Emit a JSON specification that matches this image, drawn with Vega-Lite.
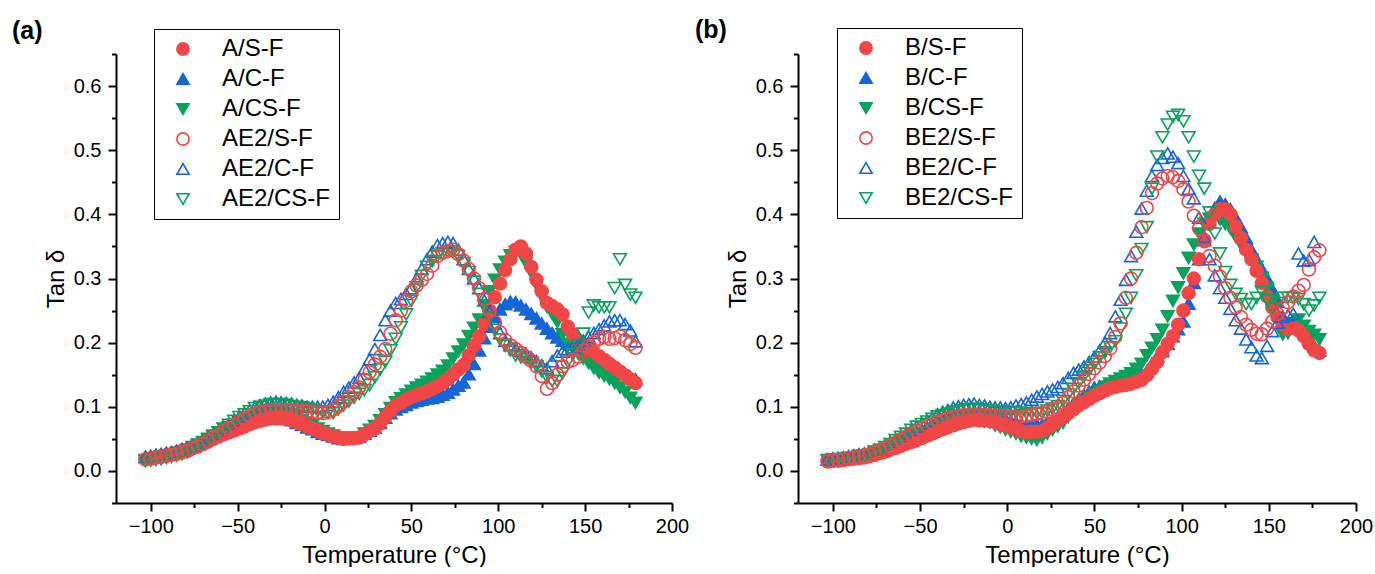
{
  "$schema": "https://vega.github.io/schema/vega-lite/v6.json",
  "background": "white",
  "padding": {"left": 12, "top": 17, "right": 0, "bottom": 0},
  "config": {
    "font": "Liberation Sans",
    "view": {"stroke": null},
    "axis": {"domainColor": "black", "domainWidth": 2, "tickColor": "black", "tickWidth": 2, "labelColor": "black", "titleColor": "black", "grid": false, "labelFontSize": 20, "titleFontSize": 24, "titleFontWeight": "normal", "labelFont": "Liberation Sans", "titleFont": "Liberation Sans"},
    "title": {"fontSize": 25, "fontWeight": "bold", "anchor": "start", "frame": "group", "color": "black", "font": "Liberation Sans"}
  },
  "datasets": {
    "a": [
      {"T":-103,"A/S-F":0.018,"A/C-F":0.022,"A/CS-F":0.017,"AE2/S-F":0.018,"AE2/C-F":0.022,"AE2/CS-F":0.015},
      {"T":-100,"A/S-F":0.020,"A/C-F":0.023,"A/CS-F":0.019,"AE2/S-F":0.019,"AE2/C-F":0.023,"AE2/CS-F":0.016},
      {"T":-97,"A/S-F":0.021,"A/C-F":0.025,"A/CS-F":0.020,"AE2/S-F":0.021,"AE2/C-F":0.025,"AE2/CS-F":0.017},
      {"T":-94,"A/S-F":0.023,"A/C-F":0.026,"A/CS-F":0.022,"AE2/S-F":0.022,"AE2/C-F":0.026,"AE2/CS-F":0.018},
      {"T":-91,"A/S-F":0.024,"A/C-F":0.028,"A/CS-F":0.023,"AE2/S-F":0.024,"AE2/C-F":0.028,"AE2/CS-F":0.020},
      {"T":-88,"A/S-F":0.026,"A/C-F":0.029,"A/CS-F":0.026,"AE2/S-F":0.025,"AE2/C-F":0.029,"AE2/CS-F":0.022},
      {"T":-85,"A/S-F":0.028,"A/C-F":0.031,"A/CS-F":0.028,"AE2/S-F":0.027,"AE2/C-F":0.031,"AE2/CS-F":0.024},
      {"T":-82,"A/S-F":0.031,"A/C-F":0.034,"A/CS-F":0.030,"AE2/S-F":0.029,"AE2/C-F":0.034,"AE2/CS-F":0.026},
      {"T":-79,"A/S-F":0.033,"A/C-F":0.036,"A/CS-F":0.033,"AE2/S-F":0.031,"AE2/C-F":0.036,"AE2/CS-F":0.029},
      {"T":-76,"A/S-F":0.036,"A/C-F":0.039,"A/CS-F":0.037,"AE2/S-F":0.035,"AE2/C-F":0.040,"AE2/CS-F":0.034},
      {"T":-73,"A/S-F":0.039,"A/C-F":0.042,"A/CS-F":0.041,"AE2/S-F":0.038,"AE2/C-F":0.043,"AE2/CS-F":0.038},
      {"T":-70,"A/S-F":0.042,"A/C-F":0.045,"A/CS-F":0.045,"AE2/S-F":0.042,"AE2/C-F":0.047,"AE2/CS-F":0.042},
      {"T":-67,"A/S-F":0.046,"A/C-F":0.050,"A/CS-F":0.050,"AE2/S-F":0.047,"AE2/C-F":0.052,"AE2/CS-F":0.048},
      {"T":-64,"A/S-F":0.050,"A/C-F":0.054,"A/CS-F":0.055,"AE2/S-F":0.052,"AE2/C-F":0.057,"AE2/CS-F":0.054},
      {"T":-61,"A/S-F":0.054,"A/C-F":0.059,"A/CS-F":0.060,"AE2/S-F":0.056,"AE2/C-F":0.061,"AE2/CS-F":0.060},
      {"T":-58,"A/S-F":0.057,"A/C-F":0.062,"A/CS-F":0.065,"AE2/S-F":0.062,"AE2/C-F":0.067,"AE2/CS-F":0.066},
      {"T":-55,"A/S-F":0.060,"A/C-F":0.066,"A/CS-F":0.068,"AE2/S-F":0.067,"AE2/C-F":0.073,"AE2/CS-F":0.072},
      {"T":-52,"A/S-F":0.063,"A/C-F":0.070,"A/CS-F":0.072,"AE2/S-F":0.072,"AE2/C-F":0.079,"AE2/CS-F":0.078},
      {"T":-49,"A/S-F":0.066,"A/C-F":0.073,"A/CS-F":0.076,"AE2/S-F":0.077,"AE2/C-F":0.085,"AE2/CS-F":0.084},
      {"T":-46,"A/S-F":0.069,"A/C-F":0.076,"A/CS-F":0.080,"AE2/S-F":0.082,"AE2/C-F":0.090,"AE2/CS-F":0.088},
      {"T":-43,"A/S-F":0.073,"A/C-F":0.079,"A/CS-F":0.083,"AE2/S-F":0.086,"AE2/C-F":0.095,"AE2/CS-F":0.093},
      {"T":-40,"A/S-F":0.076,"A/C-F":0.082,"A/CS-F":0.087,"AE2/S-F":0.090,"AE2/C-F":0.100,"AE2/CS-F":0.098},
      {"T":-37,"A/S-F":0.078,"A/C-F":0.083,"A/CS-F":0.089,"AE2/S-F":0.092,"AE2/C-F":0.102,"AE2/CS-F":0.100},
      {"T":-34,"A/S-F":0.080,"A/C-F":0.084,"A/CS-F":0.090,"AE2/S-F":0.093,"AE2/C-F":0.105,"AE2/CS-F":0.102},
      {"T":-31,"A/S-F":0.082,"A/C-F":0.086,"A/CS-F":0.092,"AE2/S-F":0.095,"AE2/C-F":0.107,"AE2/CS-F":0.104},
      {"T":-28,"A/S-F":0.082,"A/C-F":0.085,"A/CS-F":0.091,"AE2/S-F":0.095,"AE2/C-F":0.108,"AE2/CS-F":0.104},
      {"T":-25,"A/S-F":0.082,"A/C-F":0.083,"A/CS-F":0.090,"AE2/S-F":0.095,"AE2/C-F":0.107,"AE2/CS-F":0.104},
      {"T":-22,"A/S-F":0.081,"A/C-F":0.081,"A/CS-F":0.089,"AE2/S-F":0.095,"AE2/C-F":0.106,"AE2/CS-F":0.103},
      {"T":-19,"A/S-F":0.079,"A/C-F":0.079,"A/CS-F":0.087,"AE2/S-F":0.095,"AE2/C-F":0.105,"AE2/CS-F":0.101},
      {"T":-16,"A/S-F":0.076,"A/C-F":0.075,"A/CS-F":0.083,"AE2/S-F":0.094,"AE2/C-F":0.103,"AE2/CS-F":0.100},
      {"T":-13,"A/S-F":0.073,"A/C-F":0.072,"A/CS-F":0.079,"AE2/S-F":0.094,"AE2/C-F":0.102,"AE2/CS-F":0.099},
      {"T":-10,"A/S-F":0.070,"A/C-F":0.068,"A/CS-F":0.075,"AE2/S-F":0.093,"AE2/C-F":0.100,"AE2/CS-F":0.097},
      {"T":-7,"A/S-F":0.066,"A/C-F":0.065,"A/CS-F":0.071,"AE2/S-F":0.092,"AE2/C-F":0.100,"AE2/CS-F":0.095},
      {"T":-4,"A/S-F":0.063,"A/C-F":0.061,"A/CS-F":0.066,"AE2/S-F":0.091,"AE2/C-F":0.100,"AE2/CS-F":0.093},
      {"T":-1,"A/S-F":0.059,"A/C-F":0.058,"A/CS-F":0.062,"AE2/S-F":0.090,"AE2/C-F":0.100,"AE2/CS-F":0.091},
      {"T":2,"A/S-F":0.056,"A/C-F":0.056,"A/CS-F":0.058,"AE2/S-F":0.092,"AE2/C-F":0.103,"AE2/CS-F":0.090},
      {"T":5,"A/S-F":0.054,"A/C-F":0.054,"A/CS-F":0.055,"AE2/S-F":0.095,"AE2/C-F":0.108,"AE2/CS-F":0.090},
      {"T":8,"A/S-F":0.052,"A/C-F":0.051,"A/CS-F":0.052,"AE2/S-F":0.101,"AE2/C-F":0.115,"AE2/CS-F":0.096},
      {"T":11,"A/S-F":0.050,"A/C-F":0.050,"A/CS-F":0.050,"AE2/S-F":0.108,"AE2/C-F":0.123,"AE2/CS-F":0.102},
      {"T":14,"A/S-F":0.051,"A/C-F":0.051,"A/CS-F":0.051,"AE2/S-F":0.115,"AE2/C-F":0.130,"AE2/CS-F":0.108},
      {"T":17,"A/S-F":0.051,"A/C-F":0.052,"A/CS-F":0.051,"AE2/S-F":0.123,"AE2/C-F":0.138,"AE2/CS-F":0.114},
      {"T":20,"A/S-F":0.052,"A/C-F":0.053,"A/CS-F":0.052,"AE2/S-F":0.130,"AE2/C-F":0.145,"AE2/CS-F":0.120},
      {"T":23,"A/S-F":0.057,"A/C-F":0.058,"A/CS-F":0.058,"AE2/S-F":0.142,"AE2/C-F":0.159,"AE2/CS-F":0.126},
      {"T":26,"A/S-F":0.062,"A/C-F":0.063,"A/CS-F":0.064,"AE2/S-F":0.154,"AE2/C-F":0.174,"AE2/CS-F":0.134},
      {"T":29,"A/S-F":0.066,"A/C-F":0.068,"A/CS-F":0.070,"AE2/S-F":0.166,"AE2/C-F":0.190,"AE2/CS-F":0.146},
      {"T":32,"A/S-F":0.074,"A/C-F":0.075,"A/CS-F":0.079,"AE2/S-F":0.178,"AE2/C-F":0.212,"AE2/CS-F":0.158},
      {"T":35,"A/S-F":0.084,"A/C-F":0.083,"A/CS-F":0.088,"AE2/S-F":0.190,"AE2/C-F":0.235,"AE2/CS-F":0.170},
      {"T":38,"A/S-F":0.094,"A/C-F":0.090,"A/CS-F":0.098,"AE2/S-F":0.214,"AE2/C-F":0.250,"AE2/CS-F":0.188},
      {"T":41,"A/S-F":0.102,"A/C-F":0.096,"A/CS-F":0.107,"AE2/S-F":0.235,"AE2/C-F":0.262,"AE2/CS-F":0.206},
      {"T":44,"A/S-F":0.106,"A/C-F":0.100,"A/CS-F":0.113,"AE2/S-F":0.250,"AE2/C-F":0.268,"AE2/CS-F":0.224},
      {"T":47,"A/S-F":0.111,"A/C-F":0.103,"A/CS-F":0.119,"AE2/S-F":0.265,"AE2/C-F":0.276,"AE2/CS-F":0.244},
      {"T":50,"A/S-F":0.115,"A/C-F":0.107,"A/CS-F":0.125,"AE2/S-F":0.280,"AE2/C-F":0.285,"AE2/CS-F":0.265},
      {"T":53,"A/S-F":0.118,"A/C-F":0.109,"A/CS-F":0.130,"AE2/S-F":0.289,"AE2/C-F":0.300,"AE2/CS-F":0.286},
      {"T":56,"A/S-F":0.121,"A/C-F":0.111,"A/CS-F":0.134,"AE2/S-F":0.298,"AE2/C-F":0.315,"AE2/CS-F":0.304},
      {"T":59,"A/S-F":0.124,"A/C-F":0.113,"A/CS-F":0.139,"AE2/S-F":0.307,"AE2/C-F":0.330,"AE2/CS-F":0.318},
      {"T":62,"A/S-F":0.128,"A/C-F":0.114,"A/CS-F":0.144,"AE2/S-F":0.320,"AE2/C-F":0.342,"AE2/CS-F":0.327},
      {"T":65,"A/S-F":0.132,"A/C-F":0.116,"A/CS-F":0.150,"AE2/S-F":0.335,"AE2/C-F":0.352,"AE2/CS-F":0.335},
      {"T":68,"A/S-F":0.137,"A/C-F":0.119,"A/CS-F":0.156,"AE2/S-F":0.340,"AE2/C-F":0.355,"AE2/CS-F":0.339},
      {"T":71,"A/S-F":0.143,"A/C-F":0.122,"A/CS-F":0.164,"AE2/S-F":0.343,"AE2/C-F":0.357,"AE2/CS-F":0.342},
      {"T":74,"A/S-F":0.150,"A/C-F":0.127,"A/CS-F":0.175,"AE2/S-F":0.345,"AE2/C-F":0.355,"AE2/CS-F":0.342},
      {"T":77,"A/S-F":0.158,"A/C-F":0.133,"A/CS-F":0.186,"AE2/S-F":0.338,"AE2/C-F":0.345,"AE2/CS-F":0.335},
      {"T":80,"A/S-F":0.165,"A/C-F":0.138,"A/CS-F":0.197,"AE2/S-F":0.328,"AE2/C-F":0.330,"AE2/CS-F":0.324},
      {"T":83,"A/S-F":0.180,"A/C-F":0.151,"A/CS-F":0.210,"AE2/S-F":0.315,"AE2/C-F":0.315,"AE2/CS-F":0.310},
      {"T":86,"A/S-F":0.195,"A/C-F":0.167,"A/CS-F":0.223,"AE2/S-F":0.300,"AE2/C-F":0.300,"AE2/CS-F":0.295},
      {"T":89,"A/S-F":0.210,"A/C-F":0.188,"A/CS-F":0.236,"AE2/S-F":0.285,"AE2/C-F":0.285,"AE2/CS-F":0.276},
      {"T":92,"A/S-F":0.229,"A/C-F":0.207,"A/CS-F":0.256,"AE2/S-F":0.268,"AE2/C-F":0.266,"AE2/CS-F":0.258},
      {"T":95,"A/S-F":0.250,"A/C-F":0.225,"A/CS-F":0.280,"AE2/S-F":0.250,"AE2/C-F":0.248,"AE2/CS-F":0.239},
      {"T":98,"A/S-F":0.271,"A/C-F":0.240,"A/CS-F":0.298,"AE2/S-F":0.232,"AE2/C-F":0.230,"AE2/CS-F":0.220},
      {"T":101,"A/S-F":0.292,"A/C-F":0.252,"A/CS-F":0.314,"AE2/S-F":0.216,"AE2/C-F":0.215,"AE2/CS-F":0.205},
      {"T":104,"A/S-F":0.313,"A/C-F":0.260,"A/CS-F":0.326,"AE2/S-F":0.204,"AE2/C-F":0.203,"AE2/CS-F":0.195},
      {"T":107,"A/S-F":0.330,"A/C-F":0.264,"A/CS-F":0.336,"AE2/S-F":0.196,"AE2/C-F":0.196,"AE2/CS-F":0.188},
      {"T":110,"A/S-F":0.345,"A/C-F":0.263,"A/CS-F":0.341,"AE2/S-F":0.190,"AE2/C-F":0.190,"AE2/CS-F":0.180},
      {"T":113,"A/S-F":0.350,"A/C-F":0.258,"A/CS-F":0.338,"AE2/S-F":0.184,"AE2/C-F":0.187,"AE2/CS-F":0.177},
      {"T":116,"A/S-F":0.339,"A/C-F":0.252,"A/CS-F":0.324,"AE2/S-F":0.178,"AE2/C-F":0.183,"AE2/CS-F":0.174},
      {"T":119,"A/S-F":0.318,"A/C-F":0.245,"A/CS-F":0.309,"AE2/S-F":0.172,"AE2/C-F":0.177,"AE2/CS-F":0.169},
      {"T":122,"A/S-F":0.298,"A/C-F":0.238,"A/CS-F":0.290,"AE2/S-F":0.163,"AE2/C-F":0.171,"AE2/CS-F":0.163},
      {"T":125,"A/S-F":0.280,"A/C-F":0.230,"A/CS-F":0.272,"AE2/S-F":0.148,"AE2/C-F":0.165,"AE2/CS-F":0.155},
      {"T":128,"A/S-F":0.262,"A/C-F":0.222,"A/CS-F":0.256,"AE2/S-F":0.128,"AE2/C-F":0.160,"AE2/CS-F":0.146},
      {"T":131,"A/S-F":0.257,"A/C-F":0.215,"A/CS-F":0.245,"AE2/S-F":0.137,"AE2/C-F":0.171,"AE2/CS-F":0.140},
      {"T":134,"A/S-F":0.252,"A/C-F":0.208,"A/CS-F":0.232,"AE2/S-F":0.150,"AE2/C-F":0.180,"AE2/CS-F":0.140},
      {"T":137,"A/S-F":0.244,"A/C-F":0.203,"A/CS-F":0.213,"AE2/S-F":0.163,"AE2/C-F":0.186,"AE2/CS-F":0.152},
      {"T":140,"A/S-F":0.225,"A/C-F":0.199,"A/CS-F":0.198,"AE2/S-F":0.170,"AE2/C-F":0.190,"AE2/CS-F":0.170},
      {"T":143,"A/S-F":0.213,"A/C-F":0.197,"A/CS-F":0.190,"AE2/S-F":0.173,"AE2/C-F":0.193,"AE2/CS-F":0.182},
      {"T":146,"A/S-F":0.203,"A/C-F":0.194,"A/CS-F":0.183,"AE2/S-F":0.178,"AE2/C-F":0.197,"AE2/CS-F":0.196},
      {"T":149,"A/S-F":0.197,"A/C-F":0.192,"A/CS-F":0.175,"AE2/S-F":0.187,"AE2/C-F":0.203,"AE2/CS-F":0.214},
      {"T":152,"A/S-F":0.191,"A/C-F":0.188,"A/CS-F":0.168,"AE2/S-F":0.194,"AE2/C-F":0.209,"AE2/CS-F":0.247},
      {"T":155,"A/S-F":0.185,"A/C-F":0.182,"A/CS-F":0.160,"AE2/S-F":0.200,"AE2/C-F":0.215,"AE2/CS-F":0.258},
      {"T":158,"A/S-F":0.179,"A/C-F":0.177,"A/CS-F":0.153,"AE2/S-F":0.206,"AE2/C-F":0.221,"AE2/CS-F":0.255},
      {"T":161,"A/S-F":0.173,"A/C-F":0.172,"A/CS-F":0.148,"AE2/S-F":0.209,"AE2/C-F":0.227,"AE2/CS-F":0.255},
      {"T":164,"A/S-F":0.167,"A/C-F":0.167,"A/CS-F":0.143,"AE2/S-F":0.206,"AE2/C-F":0.233,"AE2/CS-F":0.255},
      {"T":167,"A/S-F":0.161,"A/C-F":0.162,"A/CS-F":0.137,"AE2/S-F":0.207,"AE2/C-F":0.235,"AE2/CS-F":0.285},
      {"T":170,"A/S-F":0.155,"A/C-F":0.157,"A/CS-F":0.130,"AE2/S-F":0.210,"AE2/C-F":0.235,"AE2/CS-F":0.330},
      {"T":173,"A/S-F":0.149,"A/C-F":0.152,"A/CS-F":0.123,"AE2/S-F":0.204,"AE2/C-F":0.229,"AE2/CS-F":0.290},
      {"T":176,"A/S-F":0.143,"A/C-F":0.147,"A/CS-F":0.114,"AE2/S-F":0.198,"AE2/C-F":0.219,"AE2/CS-F":0.275},
      {"T":179,"A/S-F":0.137,"A/C-F":0.143,"A/CS-F":0.106,"AE2/S-F":0.192,"AE2/C-F":0.202,"AE2/CS-F":0.270}
    ],
    "b": [
      {"T":-103,"B/S-F":0.015,"B/C-F":0.018,"B/CS-F":0.016,"BE2/S-F":0.015,"BE2/C-F":0.018,"BE2/CS-F":0.017},
      {"T":-100,"B/S-F":0.016,"B/C-F":0.019,"B/CS-F":0.017,"BE2/S-F":0.016,"BE2/C-F":0.019,"BE2/CS-F":0.018},
      {"T":-97,"B/S-F":0.016,"B/C-F":0.020,"B/CS-F":0.018,"BE2/S-F":0.017,"BE2/C-F":0.020,"BE2/CS-F":0.018},
      {"T":-94,"B/S-F":0.017,"B/C-F":0.021,"B/CS-F":0.019,"BE2/S-F":0.018,"BE2/C-F":0.021,"BE2/CS-F":0.019},
      {"T":-91,"B/S-F":0.018,"B/C-F":0.022,"B/CS-F":0.020,"BE2/S-F":0.020,"BE2/C-F":0.023,"BE2/CS-F":0.020},
      {"T":-88,"B/S-F":0.019,"B/C-F":0.023,"B/CS-F":0.021,"BE2/S-F":0.021,"BE2/C-F":0.024,"BE2/CS-F":0.021},
      {"T":-85,"B/S-F":0.020,"B/C-F":0.025,"B/CS-F":0.023,"BE2/S-F":0.023,"BE2/C-F":0.026,"BE2/CS-F":0.023},
      {"T":-82,"B/S-F":0.021,"B/C-F":0.027,"B/CS-F":0.024,"BE2/S-F":0.024,"BE2/C-F":0.027,"BE2/CS-F":0.024},
      {"T":-79,"B/S-F":0.023,"B/C-F":0.029,"B/CS-F":0.026,"BE2/S-F":0.026,"BE2/C-F":0.029,"BE2/CS-F":0.026},
      {"T":-76,"B/S-F":0.025,"B/C-F":0.032,"B/CS-F":0.028,"BE2/S-F":0.029,"BE2/C-F":0.033,"BE2/CS-F":0.030},
      {"T":-73,"B/S-F":0.028,"B/C-F":0.034,"B/CS-F":0.031,"BE2/S-F":0.032,"BE2/C-F":0.036,"BE2/CS-F":0.033},
      {"T":-70,"B/S-F":0.030,"B/C-F":0.038,"B/CS-F":0.033,"BE2/S-F":0.035,"BE2/C-F":0.040,"BE2/CS-F":0.037},
      {"T":-67,"B/S-F":0.033,"B/C-F":0.042,"B/CS-F":0.037,"BE2/S-F":0.040,"BE2/C-F":0.045,"BE2/CS-F":0.042},
      {"T":-64,"B/S-F":0.036,"B/C-F":0.045,"B/CS-F":0.040,"BE2/S-F":0.044,"BE2/C-F":0.049,"BE2/CS-F":0.048},
      {"T":-61,"B/S-F":0.039,"B/C-F":0.049,"B/CS-F":0.044,"BE2/S-F":0.049,"BE2/C-F":0.054,"BE2/CS-F":0.053},
      {"T":-58,"B/S-F":0.042,"B/C-F":0.052,"B/CS-F":0.047,"BE2/S-F":0.053,"BE2/C-F":0.058,"BE2/CS-F":0.058},
      {"T":-55,"B/S-F":0.045,"B/C-F":0.056,"B/CS-F":0.051,"BE2/S-F":0.058,"BE2/C-F":0.064,"BE2/CS-F":0.064},
      {"T":-52,"B/S-F":0.048,"B/C-F":0.060,"B/CS-F":0.055,"BE2/S-F":0.062,"BE2/C-F":0.069,"BE2/CS-F":0.069},
      {"T":-49,"B/S-F":0.051,"B/C-F":0.063,"B/CS-F":0.058,"BE2/S-F":0.066,"BE2/C-F":0.074,"BE2/CS-F":0.073},
      {"T":-46,"B/S-F":0.055,"B/C-F":0.067,"B/CS-F":0.061,"BE2/S-F":0.070,"BE2/C-F":0.078,"BE2/CS-F":0.077},
      {"T":-43,"B/S-F":0.058,"B/C-F":0.071,"B/CS-F":0.065,"BE2/S-F":0.073,"BE2/C-F":0.083,"BE2/CS-F":0.081},
      {"T":-40,"B/S-F":0.062,"B/C-F":0.075,"B/CS-F":0.068,"BE2/S-F":0.077,"BE2/C-F":0.088,"BE2/CS-F":0.085},
      {"T":-37,"B/S-F":0.065,"B/C-F":0.079,"B/CS-F":0.071,"BE2/S-F":0.079,"BE2/C-F":0.092,"BE2/CS-F":0.087},
      {"T":-34,"B/S-F":0.068,"B/C-F":0.082,"B/CS-F":0.073,"BE2/S-F":0.082,"BE2/C-F":0.095,"BE2/CS-F":0.089},
      {"T":-31,"B/S-F":0.071,"B/C-F":0.086,"B/CS-F":0.076,"BE2/S-F":0.084,"BE2/C-F":0.099,"BE2/CS-F":0.091},
      {"T":-28,"B/S-F":0.074,"B/C-F":0.088,"B/CS-F":0.078,"BE2/S-F":0.086,"BE2/C-F":0.101,"BE2/CS-F":0.093},
      {"T":-25,"B/S-F":0.076,"B/C-F":0.090,"B/CS-F":0.079,"BE2/S-F":0.087,"BE2/C-F":0.103,"BE2/CS-F":0.095},
      {"T":-22,"B/S-F":0.078,"B/C-F":0.092,"B/CS-F":0.080,"BE2/S-F":0.087,"BE2/C-F":0.104,"BE2/CS-F":0.096},
      {"T":-19,"B/S-F":0.080,"B/C-F":0.093,"B/CS-F":0.080,"BE2/S-F":0.088,"BE2/C-F":0.105,"BE2/CS-F":0.097},
      {"T":-16,"B/S-F":0.079,"B/C-F":0.092,"B/CS-F":0.079,"BE2/S-F":0.088,"BE2/C-F":0.103,"BE2/CS-F":0.096},
      {"T":-13,"B/S-F":0.079,"B/C-F":0.091,"B/CS-F":0.077,"BE2/S-F":0.087,"BE2/C-F":0.102,"BE2/CS-F":0.095},
      {"T":-10,"B/S-F":0.078,"B/C-F":0.090,"B/CS-F":0.075,"BE2/S-F":0.087,"BE2/C-F":0.100,"BE2/CS-F":0.094},
      {"T":-7,"B/S-F":0.076,"B/C-F":0.087,"B/CS-F":0.071,"BE2/S-F":0.086,"BE2/C-F":0.099,"BE2/CS-F":0.093},
      {"T":-4,"B/S-F":0.073,"B/C-F":0.084,"B/CS-F":0.068,"BE2/S-F":0.086,"BE2/C-F":0.099,"BE2/CS-F":0.093},
      {"T":-1,"B/S-F":0.071,"B/C-F":0.081,"B/CS-F":0.064,"BE2/S-F":0.085,"BE2/C-F":0.098,"BE2/CS-F":0.092},
      {"T":2,"B/S-F":0.068,"B/C-F":0.078,"B/CS-F":0.061,"BE2/S-F":0.085,"BE2/C-F":0.099,"BE2/CS-F":0.092},
      {"T":5,"B/S-F":0.065,"B/C-F":0.076,"B/CS-F":0.058,"BE2/S-F":0.085,"BE2/C-F":0.102,"BE2/CS-F":0.091},
      {"T":8,"B/S-F":0.062,"B/C-F":0.074,"B/CS-F":0.054,"BE2/S-F":0.085,"BE2/C-F":0.104,"BE2/CS-F":0.090},
      {"T":11,"B/S-F":0.060,"B/C-F":0.072,"B/CS-F":0.052,"BE2/S-F":0.086,"BE2/C-F":0.107,"BE2/CS-F":0.090},
      {"T":14,"B/S-F":0.061,"B/C-F":0.072,"B/CS-F":0.050,"BE2/S-F":0.087,"BE2/C-F":0.111,"BE2/CS-F":0.090},
      {"T":17,"B/S-F":0.061,"B/C-F":0.072,"B/CS-F":0.048,"BE2/S-F":0.089,"BE2/C-F":0.116,"BE2/CS-F":0.090},
      {"T":20,"B/S-F":0.062,"B/C-F":0.072,"B/CS-F":0.052,"BE2/S-F":0.090,"BE2/C-F":0.120,"BE2/CS-F":0.090},
      {"T":23,"B/S-F":0.067,"B/C-F":0.076,"B/CS-F":0.058,"BE2/S-F":0.093,"BE2/C-F":0.124,"BE2/CS-F":0.094},
      {"T":26,"B/S-F":0.073,"B/C-F":0.080,"B/CS-F":0.064,"BE2/S-F":0.096,"BE2/C-F":0.127,"BE2/CS-F":0.097},
      {"T":29,"B/S-F":0.078,"B/C-F":0.084,"B/CS-F":0.069,"BE2/S-F":0.099,"BE2/C-F":0.131,"BE2/CS-F":0.101},
      {"T":32,"B/S-F":0.084,"B/C-F":0.090,"B/CS-F":0.075,"BE2/S-F":0.106,"BE2/C-F":0.137,"BE2/CS-F":0.109},
      {"T":35,"B/S-F":0.090,"B/C-F":0.098,"B/CS-F":0.084,"BE2/S-F":0.115,"BE2/C-F":0.145,"BE2/CS-F":0.119},
      {"T":38,"B/S-F":0.096,"B/C-F":0.105,"B/CS-F":0.094,"BE2/S-F":0.124,"BE2/C-F":0.153,"BE2/CS-F":0.128},
      {"T":41,"B/S-F":0.102,"B/C-F":0.112,"B/CS-F":0.102,"BE2/S-F":0.133,"BE2/C-F":0.158,"BE2/CS-F":0.137},
      {"T":44,"B/S-F":0.107,"B/C-F":0.118,"B/CS-F":0.108,"BE2/S-F":0.142,"BE2/C-F":0.163,"BE2/CS-F":0.147},
      {"T":47,"B/S-F":0.112,"B/C-F":0.124,"B/CS-F":0.114,"BE2/S-F":0.151,"BE2/C-F":0.170,"BE2/CS-F":0.157},
      {"T":50,"B/S-F":0.117,"B/C-F":0.130,"B/CS-F":0.120,"BE2/S-F":0.160,"BE2/C-F":0.178,"BE2/CS-F":0.167},
      {"T":53,"B/S-F":0.121,"B/C-F":0.132,"B/CS-F":0.125,"BE2/S-F":0.169,"BE2/C-F":0.188,"BE2/CS-F":0.177},
      {"T":56,"B/S-F":0.125,"B/C-F":0.135,"B/CS-F":0.131,"BE2/S-F":0.179,"BE2/C-F":0.200,"BE2/CS-F":0.185},
      {"T":59,"B/S-F":0.129,"B/C-F":0.137,"B/CS-F":0.136,"BE2/S-F":0.191,"BE2/C-F":0.215,"BE2/CS-F":0.193},
      {"T":62,"B/S-F":0.131,"B/C-F":0.138,"B/CS-F":0.140,"BE2/S-F":0.209,"BE2/C-F":0.241,"BE2/CS-F":0.202},
      {"T":65,"B/S-F":0.133,"B/C-F":0.139,"B/CS-F":0.144,"BE2/S-F":0.230,"BE2/C-F":0.267,"BE2/CS-F":0.222},
      {"T":68,"B/S-F":0.134,"B/C-F":0.140,"B/CS-F":0.148,"BE2/S-F":0.270,"BE2/C-F":0.298,"BE2/CS-F":0.245},
      {"T":71,"B/S-F":0.136,"B/C-F":0.142,"B/CS-F":0.152,"BE2/S-F":0.300,"BE2/C-F":0.335,"BE2/CS-F":0.270},
      {"T":74,"B/S-F":0.139,"B/C-F":0.146,"B/CS-F":0.159,"BE2/S-F":0.340,"BE2/C-F":0.373,"BE2/CS-F":0.305},
      {"T":77,"B/S-F":0.142,"B/C-F":0.151,"B/CS-F":0.167,"BE2/S-F":0.380,"BE2/C-F":0.409,"BE2/CS-F":0.346},
      {"T":80,"B/S-F":0.149,"B/C-F":0.155,"B/CS-F":0.180,"BE2/S-F":0.410,"BE2/C-F":0.437,"BE2/CS-F":0.380},
      {"T":83,"B/S-F":0.159,"B/C-F":0.167,"B/CS-F":0.192,"BE2/S-F":0.433,"BE2/C-F":0.460,"BE2/CS-F":0.440},
      {"T":86,"B/S-F":0.170,"B/C-F":0.178,"B/CS-F":0.205,"BE2/S-F":0.448,"BE2/C-F":0.477,"BE2/CS-F":0.490},
      {"T":89,"B/S-F":0.185,"B/C-F":0.187,"B/CS-F":0.220,"BE2/S-F":0.456,"BE2/C-F":0.488,"BE2/CS-F":0.520},
      {"T":92,"B/S-F":0.198,"B/C-F":0.198,"B/CS-F":0.241,"BE2/S-F":0.460,"BE2/C-F":0.495,"BE2/CS-F":0.540},
      {"T":95,"B/S-F":0.210,"B/C-F":0.210,"B/CS-F":0.265,"BE2/S-F":0.458,"BE2/C-F":0.490,"BE2/CS-F":0.552},
      {"T":98,"B/S-F":0.228,"B/C-F":0.221,"B/CS-F":0.286,"BE2/S-F":0.452,"BE2/C-F":0.480,"BE2/CS-F":0.555},
      {"T":101,"B/S-F":0.250,"B/C-F":0.233,"B/CS-F":0.308,"BE2/S-F":0.439,"BE2/C-F":0.460,"BE2/CS-F":0.545},
      {"T":104,"B/S-F":0.277,"B/C-F":0.261,"B/CS-F":0.332,"BE2/S-F":0.420,"BE2/C-F":0.440,"BE2/CS-F":0.520},
      {"T":107,"B/S-F":0.300,"B/C-F":0.293,"B/CS-F":0.353,"BE2/S-F":0.398,"BE2/C-F":0.425,"BE2/CS-F":0.490},
      {"T":110,"B/S-F":0.330,"B/C-F":0.330,"B/CS-F":0.370,"BE2/S-F":0.378,"BE2/C-F":0.395,"BE2/CS-F":0.460},
      {"T":113,"B/S-F":0.360,"B/C-F":0.360,"B/CS-F":0.385,"BE2/S-F":0.358,"BE2/C-F":0.365,"BE2/CS-F":0.440},
      {"T":116,"B/S-F":0.385,"B/C-F":0.388,"B/CS-F":0.393,"BE2/S-F":0.335,"BE2/C-F":0.330,"BE2/CS-F":0.403},
      {"T":119,"B/S-F":0.400,"B/C-F":0.410,"B/CS-F":0.395,"BE2/S-F":0.320,"BE2/C-F":0.305,"BE2/CS-F":0.370},
      {"T":122,"B/S-F":0.408,"B/C-F":0.420,"B/CS-F":0.392,"BE2/S-F":0.303,"BE2/C-F":0.285,"BE2/CS-F":0.339},
      {"T":125,"B/S-F":0.408,"B/C-F":0.416,"B/CS-F":0.385,"BE2/S-F":0.285,"BE2/C-F":0.270,"BE2/CS-F":0.310},
      {"T":128,"B/S-F":0.400,"B/C-F":0.408,"B/CS-F":0.378,"BE2/S-F":0.270,"BE2/C-F":0.253,"BE2/CS-F":0.290},
      {"T":131,"B/S-F":0.381,"B/C-F":0.395,"B/CS-F":0.365,"BE2/S-F":0.255,"BE2/C-F":0.235,"BE2/CS-F":0.276},
      {"T":134,"B/S-F":0.363,"B/C-F":0.380,"B/CS-F":0.353,"BE2/S-F":0.240,"BE2/C-F":0.222,"BE2/CS-F":0.268},
      {"T":137,"B/S-F":0.345,"B/C-F":0.363,"B/CS-F":0.340,"BE2/S-F":0.228,"BE2/C-F":0.205,"BE2/CS-F":0.260},
      {"T":140,"B/S-F":0.330,"B/C-F":0.345,"B/CS-F":0.329,"BE2/S-F":0.220,"BE2/C-F":0.193,"BE2/CS-F":0.260},
      {"T":143,"B/S-F":0.312,"B/C-F":0.330,"B/CS-F":0.318,"BE2/S-F":0.214,"BE2/C-F":0.180,"BE2/CS-F":0.270},
      {"T":146,"B/S-F":0.293,"B/C-F":0.315,"B/CS-F":0.301,"BE2/S-F":0.213,"BE2/C-F":0.176,"BE2/CS-F":0.279},
      {"T":149,"B/S-F":0.272,"B/C-F":0.300,"B/CS-F":0.285,"BE2/S-F":0.222,"BE2/C-F":0.195,"BE2/CS-F":0.266},
      {"T":152,"B/S-F":0.255,"B/C-F":0.283,"B/CS-F":0.265,"BE2/S-F":0.233,"BE2/C-F":0.218,"BE2/CS-F":0.253},
      {"T":155,"B/S-F":0.240,"B/C-F":0.264,"B/CS-F":0.235,"BE2/S-F":0.245,"BE2/C-F":0.231,"BE2/CS-F":0.262},
      {"T":158,"B/S-F":0.228,"B/C-F":0.240,"B/CS-F":0.213,"BE2/S-F":0.254,"BE2/C-F":0.240,"BE2/CS-F":0.270},
      {"T":161,"B/S-F":0.221,"B/C-F":0.229,"B/CS-F":0.215,"BE2/S-F":0.263,"BE2/C-F":0.243,"BE2/CS-F":0.270},
      {"T":164,"B/S-F":0.224,"B/C-F":0.230,"B/CS-F":0.230,"BE2/S-F":0.272,"BE2/C-F":0.245,"BE2/CS-F":0.270},
      {"T":167,"B/S-F":0.219,"B/C-F":0.232,"B/CS-F":0.236,"BE2/S-F":0.281,"BE2/C-F":0.339,"BE2/CS-F":0.268},
      {"T":170,"B/S-F":0.210,"B/C-F":0.219,"B/CS-F":0.226,"BE2/S-F":0.290,"BE2/C-F":0.328,"BE2/CS-F":0.260},
      {"T":173,"B/S-F":0.198,"B/C-F":0.207,"B/CS-F":0.218,"BE2/S-F":0.314,"BE2/C-F":0.329,"BE2/CS-F":0.250},
      {"T":176,"B/S-F":0.188,"B/C-F":0.195,"B/CS-F":0.212,"BE2/S-F":0.333,"BE2/C-F":0.357,"BE2/CS-F":0.258},
      {"T":179,"B/S-F":0.184,"B/C-F":0.188,"B/CS-F":0.205,"BE2/S-F":0.344,"BE2/CS-F":0.270}
    ]
  },
  "hconcat": [
    {
      "title": {"text": "(a)", "dx": -104, "dy": 19},
      "width": 556,
      "height": 449,
      "data": {"name": "a"},
      "transform": [{"fold": ["A/S-F", "A/C-F", "A/CS-F", "AE2/S-F", "AE2/C-F", "AE2/CS-F"], "as": ["series", "tan"]}],
      "mark": {"type": "point", "size": 165, "strokeWidth": 1.6, "opacity": 1},
      "encoding": {
        "x": {"field": "T", "type": "quantitative", "scale": {"domain": [-120, 200], "nice": false},
          "axis": {"values": [-100, -75, -50, -25, 0, 25, 50, 75, 100, 125, 150, 175, 200], "labelExpr": "datum.value % 50 === 0 ? datum.label : ''", "tickSize": {"condition": {"test": "datum.value % 50 === 0", "value": 8}, "value": 4.5}, "labelPadding": 5, "labelOverlap": false, "labelFlush": false, "title": "Temperature (°C)", "titlePadding": 7}},
        "y": {"field": "tan", "type": "quantitative", "scale": {"domain": [-0.05, 0.65], "nice": false, "zero": false},
          "axis": {"values": [-0.05, 0, 0.05, 0.1, 0.15, 0.2, 0.25, 0.3, 0.35, 0.4, 0.45, 0.5, 0.55, 0.6, 0.65], "format": ".1f", "labelExpr": "round(datum.value * 100) % 10 === 0 ? datum.label : ''", "tickSize": {"condition": {"test": "round(datum.value * 100) % 10 === 0", "value": 8}, "value": 4.5}, "labelPadding": 7, "labelOverlap": false, "labelFlush": false, "title": "Tan δ", "titlePadding": 5}},
        "shape": {"field": "series", "type": "nominal", "scale": {"domain": ["A/S-F", "A/C-F", "A/CS-F", "AE2/S-F", "AE2/C-F", "AE2/CS-F"], "range": ["circle", "triangle-up", "triangle-down", "circle", "triangle-up", "triangle-down"]},
          "legend": {"title": null, "orient": "none", "legendX": 38, "legendY": -25, "padding": 8, "symbolOffset": 9, "labelOffset": 27, "labelFontSize": 24, "labelFont": "Liberation Sans", "labelColor": "black", "rowPadding": 6, "strokeColor": "black", "fillColor": "white", "symbolSize": 150, "symbolStrokeWidth": 1.6, "labelLimit": 300}},
        "fill": {"field": "series", "type": "nominal", "scale": {"domain": ["A/S-F", "A/C-F", "A/CS-F", "AE2/S-F", "AE2/C-F", "AE2/CS-F"], "range": ["#F24646", "#1466D8", "#06A35A", "transparent", "transparent", "transparent"]}},
        "stroke": {"field": "series", "type": "nominal", "scale": {"domain": ["A/S-F", "A/C-F", "A/CS-F", "AE2/S-F", "AE2/C-F", "AE2/CS-F"], "range": ["#F24646", "#1466D8", "#06A35A", "#F24646", "#1466D8", "#06A35A"]}},
        "order": {"field": "series"}
      }
    },
    {
      "title": {"text": "(b)", "dx": -103, "dy": 19},
      "width": 558,
      "height": 449,
      "data": {"name": "b"},
      "transform": [{"fold": ["B/S-F", "B/C-F", "B/CS-F", "BE2/S-F", "BE2/C-F", "BE2/CS-F"], "as": ["series", "tan"]}],
      "mark": {"type": "point", "size": 165, "strokeWidth": 1.6, "opacity": 1},
      "encoding": {
        "x": {"field": "T", "type": "quantitative", "scale": {"domain": [-120, 200], "nice": false},
          "axis": {"values": [-100, -75, -50, -25, 0, 25, 50, 75, 100, 125, 150, 175, 200], "labelExpr": "datum.value % 50 === 0 ? datum.label : ''", "tickSize": {"condition": {"test": "datum.value % 50 === 0", "value": 8}, "value": 4.5}, "labelPadding": 5, "labelOverlap": false, "labelFlush": false, "title": "Temperature (°C)", "titlePadding": 7}},
        "y": {"field": "tan", "type": "quantitative", "scale": {"domain": [-0.05, 0.65], "nice": false, "zero": false},
          "axis": {"values": [-0.05, 0, 0.05, 0.1, 0.15, 0.2, 0.25, 0.3, 0.35, 0.4, 0.45, 0.5, 0.55, 0.6, 0.65], "format": ".1f", "labelExpr": "round(datum.value * 100) % 10 === 0 ? datum.label : ''", "tickSize": {"condition": {"test": "round(datum.value * 100) % 10 === 0", "value": 8}, "value": 4.5}, "labelPadding": 7, "labelOverlap": false, "labelFlush": false, "title": "Tan δ", "titlePadding": 5}},
        "shape": {"field": "series", "type": "nominal", "scale": {"domain": ["B/S-F", "B/C-F", "B/CS-F", "BE2/S-F", "BE2/C-F", "BE2/CS-F"], "range": ["circle", "triangle-up", "triangle-down", "circle", "triangle-up", "triangle-down"]},
          "legend": {"title": null, "orient": "none", "legendX": 39, "legendY": -26, "padding": 8, "symbolOffset": 9, "labelOffset": 27, "labelFontSize": 24, "labelFont": "Liberation Sans", "labelColor": "black", "rowPadding": 6, "strokeColor": "black", "fillColor": "white", "symbolSize": 150, "symbolStrokeWidth": 1.6, "labelLimit": 300}},
        "fill": {"field": "series", "type": "nominal", "scale": {"domain": ["B/S-F", "B/C-F", "B/CS-F", "BE2/S-F", "BE2/C-F", "BE2/CS-F"], "range": ["#F24646", "#1466D8", "#06A35A", "transparent", "transparent", "transparent"]}},
        "stroke": {"field": "series", "type": "nominal", "scale": {"domain": ["B/S-F", "B/C-F", "B/CS-F", "BE2/S-F", "BE2/C-F", "BE2/CS-F"], "range": ["#F24646", "#1466D8", "#06A35A", "#F24646", "#1466D8", "#06A35A"]}},
        "order": {"field": "series"}
      }
    }
  ],
  "spacing": 126,
  "bounds": "flush",
  "resolve": {"scale": {"shape": "independent", "fill": "independent", "stroke": "independent"}}
}
